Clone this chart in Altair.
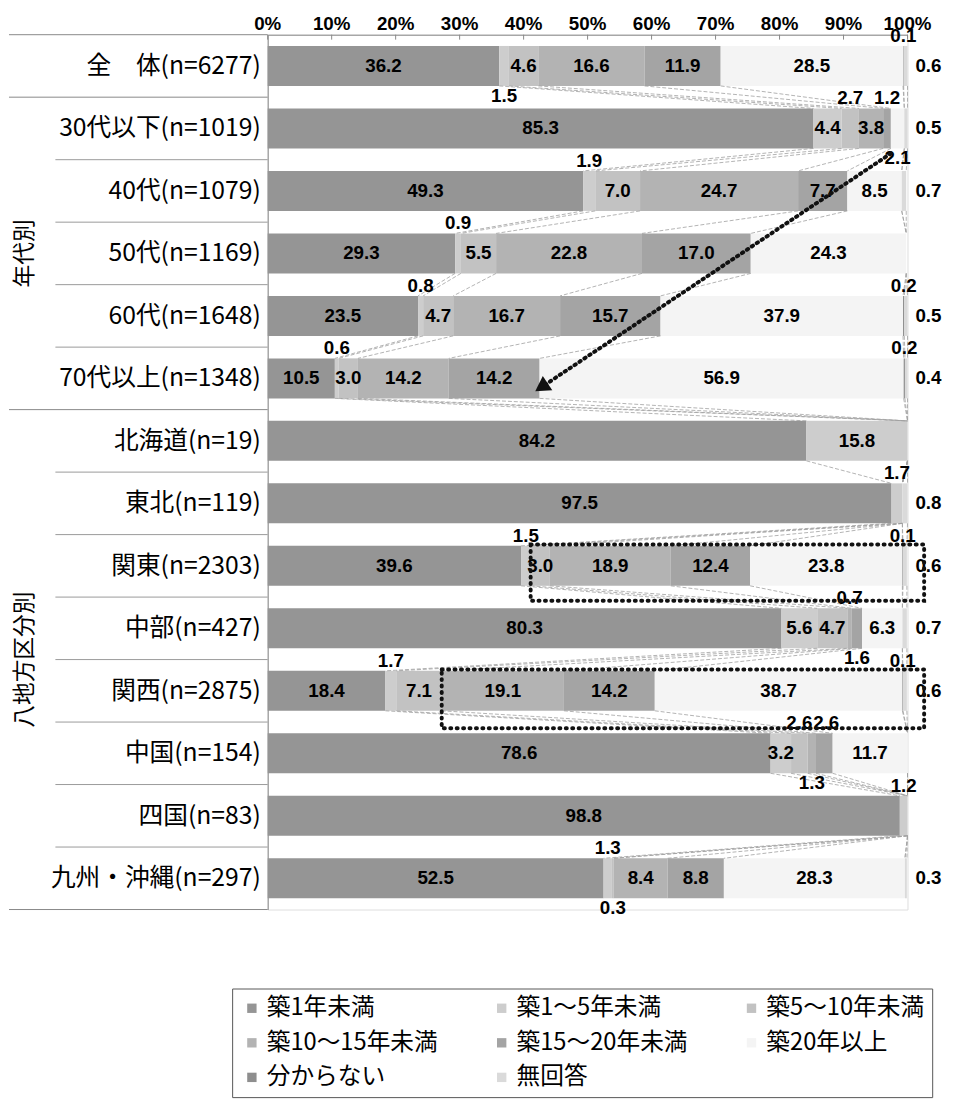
import math
import altair as alt
import pandas as pd

# ---------------- data ----------------
rows = ["全　体(n=6277)", "30代以下(n=1019)", "40代(n=1079)", "50代(n=1169)",
        "60代(n=1648)", "70代以上(n=1348)", "北海道(n=19)", "東北(n=119)",
        "関東(n=2303)", "中部(n=427)", "関西(n=2875)", "中国(n=154)",
        "四国(n=83)", "九州・沖縄(n=297)"]

categories = ["築1年未満", "築1～5年未満", "築5～10年未満", "築10～15年未満",
              "築15～20年未満", "築20年以上", "分からない", "無回答"]

v_lt1   = [36.2, 85.3, 49.3, 29.3, 23.5, 10.5, 84.2, 97.5, 39.6, 80.3, 18.4, 78.6, 98.8, 52.5]
v_1_5   = [1.5, 4.4, 1.9, 0.9, 0.8, 0.6, 15.8, 1.7, 1.5, 5.6, 1.7, 3.2, 1.2, 1.3]
v_5_10  = [4.6, 2.7, 7.0, 5.5, 4.7, 3.0, 0, 0, 3.0, 4.7, 7.1, 2.6, 0, 0.3]
v_10_15 = [16.6, 3.8, 24.7, 22.8, 16.7, 14.2, 0, 0, 18.9, 0.7, 19.1, 1.3, 0, 8.4]
v_15_20 = [11.9, 1.2, 7.7, 17.0, 15.7, 14.2, 0, 0, 12.4, 1.6, 14.2, 2.6, 0, 8.8]
v_20up  = [28.5, 2.1, 8.5, 24.3, 37.9, 56.9, 0, 0, 23.8, 6.3, 38.7, 11.7, 0, 28.3]
v_dk    = [0.1, 0, 0, 0, 0.2, 0.2, 0, 0, 0.1, 0, 0.1, 0, 0, 0]
v_na    = [0.6, 0.5, 0.7, 0, 0.5, 0.4, 0, 0.8, 0.6, 0.7, 0.6, 0, 0, 0.3]

series = [v_lt1, v_1_5, v_5_10, v_10_15, v_15_20, v_20up, v_dk, v_na]

groups = [("", 0, 0), ("年代別", 1, 5), ("八地方区分別", 6, 13)]

tick_values = [0, 10, 20, 30, 40, 50, 60, 70, 80, 90, 100]
tick_labels = ["0%", "10%", "20%", "30%", "40%", "50%", "60%", "70%", "80%", "90%", "100%"]

colors = ["#959595", "#cdcdcd", "#c2c2c2", "#b3b3b3", "#a4a4a4", "#f4f4f4", "#8e8e8e", "#dadada"]

# ---------------- layout ----------------
W, H = 648, 886
HALF = 0.32
NUM_FONT = "Liberation Sans"
JP_FONT = "Noto Sans CJK JP"
GAP = 4.2  # minimum distance (in %) between two small labels on the same side

n = len(rows)
bar_recs, cum = [], []
for i, r in enumerate(rows):
    c = 0.0
    ends = []
    for k, cat in enumerate(categories):
        v = series[k][i]
        x0 = c
        c = round(c + v, 4)
        ends.append(c)
        if v > 0:
            bar_recs.append(dict(row=r, idx=i, cat=cat, v=v, x0=x0, x1=c,
                                 y0=i - HALF, y1=i + HALF))
    cum.append(ends)
bars_df = pd.DataFrame(bar_recs)

line_recs = []
for i in range(n - 1):
    for k in range(len(categories)):
        line_recs.append(dict(x=cum[i][k], x2=cum[i + 1][k], y=i + HALF, y2=i + 1 - HALF))
lines_df = pd.DataFrame(line_recs)

inside, above, below, right = [], [], [], []
for i in range(n):
    last = {"above": -99.0, "below": -99.0}
    for k, cat in enumerate(categories):
        v = series[k][i]
        if v <= 0:
            continue
        mid = cum[i][k] - v / 2
        t = f"{v:.1f}"
        if cat == "無回答":
            right.append(dict(x=100, y=i, t=t))
            continue
        if cat != "分からない" and v >= 3.0:
            inside.append(dict(x=mid, y=i, t=t))
            continue
        if cat == "分からない":
            side = "above"
        elif i == 0:
            side = "below"
        elif mid - last["above"] >= GAP:
            side = "above"
        elif mid - last["below"] >= GAP:
            side = "below"
        else:
            side = "above" if last["above"] <= last["below"] else "below"
            mid = last[side] + GAP
        last[side] = mid
        if side == "above":
            above.append(dict(x=mid, y=i - HALF, t=t))
        else:
            below.append(dict(x=mid, y=i + HALF, t=t))

rowlab_df = pd.DataFrame(dict(idx=list(range(n)), label=rows))
grp_df = pd.DataFrame([dict(g=g, y=(a + b) / 2) for g, a, b in groups if g])
long_y = sorted(set([a - 0.5 for g, a, b in groups] + [groups[-1][2] + 0.5]))
short_y = [i + 0.5 for i in range(n - 1) if (i + 0.5) not in long_y]
long_df = pd.DataFrame(dict(y=long_y))
short_df = pd.DataFrame(dict(y=short_y))
ticks_df = pd.DataFrame(dict(x=tick_values, t=tick_labels))

xs = alt.Scale(domain=[0, 100], nice=False)
ys = alt.Scale(domain=[-0.5, n - 0.5], reverse=True, nice=False, zero=False)
XAX = alt.Axis(orient="top", values=tick_values, labels=False, ticks=False, grid=False,
               domainColor="#888")
YAX = alt.Axis(labels=False, ticks=False, grid=False, domainColor="#888")

bars = alt.Chart(bars_df).mark_bar().encode(
    x=alt.X("x0:Q", scale=xs, axis=XAX, title=None),
    x2="x1:Q",
    y=alt.Y("y0:Q", scale=ys, axis=YAX, title=None),
    y2="y1:Q",
    color=alt.Color("cat:N", scale=alt.Scale(domain=categories, range=colors),
                    legend=alt.Legend(title=None, orient="none", legendX=-36, legendY=966,
                                      direction="horizontal", columns=3,
                                      symbolType="square", symbolSize=90,
                                      symbolStrokeWidth=0, labelFont=JP_FONT, labelFontSize=24,
                                      labelColor="#000", columnPadding=52, rowPadding=11,
                                      padding=8, strokeColor="#555", labelOffset=3,
                                      labelLimit=400)),
)

slines = alt.Chart(lines_df).mark_rule(color="#a0a0a0", strokeDash=[4, 2], strokeWidth=0.8).encode(
    x=alt.X("x:Q", scale=xs, axis=XAX, title=None), x2="x2:Q",
    y=alt.Y("y:Q", scale=ys, axis=YAX, title=None), y2="y2:Q")

def txt(data, **kw):
    base = dict(font=NUM_FONT, fontSize=19, fontWeight="bold", color="#000")
    base.update(kw)
    return alt.Chart(pd.DataFrame(data)).mark_text(**base).encode(
        x=alt.X("x:Q", scale=xs, axis=XAX, title=None),
        y=alt.Y("y:Q", scale=ys, axis=YAX, title=None),
        text="t:N")

t_in = txt(inside, align="center", baseline="middle")
t_ab = txt(above, align="center", baseline="bottom", dy=0)
t_be = txt(below, align="center", baseline="top", dy=1)
t_rt = txt(right, align="left", baseline="middle", dx=8)

xlabels = alt.Chart(ticks_df).mark_text(font=NUM_FONT, fontSize=19, fontWeight="bold",
                                        color="#000", align="center", baseline="middle").encode(
    x=alt.X("x:Q", scale=xs, axis=XAX, title=None), y=alt.value(-11), text="t:N")
xticks = alt.Chart(ticks_df).mark_rule(color="#888", strokeWidth=1).encode(
    x=alt.X("x:Q", scale=xs, axis=XAX, title=None), y=alt.value(0), y2=alt.value(5))

rowlabs = alt.Chart(rowlab_df).mark_text(align="right", baseline="middle", font=JP_FONT,
                                          fontSize=25, color="#000", dx=-7).encode(
    x=alt.value(0), y=alt.Y("idx:Q", scale=ys, axis=YAX, title=None), text="label:N")

grplabs = alt.Chart(grp_df).mark_text(align="center", baseline="middle", font=JP_FONT,
                                       fontSize=23, color="#000", angle=270).encode(
    x=alt.value(-246), y=alt.Y("y:Q", scale=ys, axis=YAX, title=None), text="g:N")

long_rules = alt.Chart(long_df).mark_rule(color="#888", strokeWidth=1).encode(
    x=alt.value(-262), x2=alt.value(0), y=alt.Y("y:Q", scale=ys, axis=YAX, title=None))
short_rules = alt.Chart(short_df).mark_rule(color="#999", strokeWidth=1).encode(
    x=alt.value(-215), x2=alt.value(0), y=alt.Y("y:Q", scale=ys, axis=YAX, title=None))

# ---- hand-drawn style annotations (derived from the data) ----
a_from = (cum[1][4], 1 + HALF + 0.08)
a_to = (cum[5][4] + 0.6, 5 + 0.12)
arrow_df = pd.DataFrame([dict(x=a_from[0], y=a_from[1], o=0), dict(x=a_to[0], y=a_to[1], o=1)])
arrow = alt.Chart(arrow_df).mark_line(color="#111", strokeWidth=4, strokeDash=[1.5, 4.5],
                                      strokeCap="round").encode(
    x=alt.X("x:Q", scale=xs, axis=XAX, title=None),
    y=alt.Y("y:Q", scale=ys, axis=YAX, title=None), order="o:Q")
dxp = (a_to[0] - a_from[0]) * W / 100
dyp = (a_to[1] - a_from[1]) * H / n
ang = (math.degrees(math.atan2(dxp, -dyp)) + 360) % 360
head = alt.Chart(arrow_df[arrow_df.o == 1]).mark_point(shape="triangle", filled=True, size=300,
                                                       color="#111", opacity=1, angle=ang).encode(
    x=alt.X("x:Q", scale=xs, axis=XAX, title=None),
    y=alt.Y("y:Q", scale=ys, axis=YAX, title=None))

box_df = pd.DataFrame([
    dict(x=cum[8][1], x2=102.6, y=8 - 0.34, y2=8 + 0.56),
    dict(x=cum[10][2], x2=102.6, y=10 - 0.34, y2=10 + 0.6),
])
boxes = alt.Chart(box_df).mark_rect(fillOpacity=0, stroke="#111", strokeWidth=4,
                                    strokeDash=[1, 5.5], strokeCap="round").encode(
    x=alt.X("x:Q", scale=xs, axis=XAX, title=None), x2="x2:Q",
    y=alt.Y("y:Q", scale=ys, axis=YAX, title=None), y2="y2:Q")

chart = alt.layer(
    bars, slines, long_rules, short_rules, xticks, t_in, t_ab, t_be, t_rt, xlabels, rowlabs,
    grplabs, boxes, arrow, head
).properties(
    width=W, height=H, padding={"left": 0, "top": 0, "right": 5, "bottom": 5}
).configure_view(stroke=None).configure(background="white")

chart.save("out.html", embed_options={"renderer": "svg", "actions": False})
